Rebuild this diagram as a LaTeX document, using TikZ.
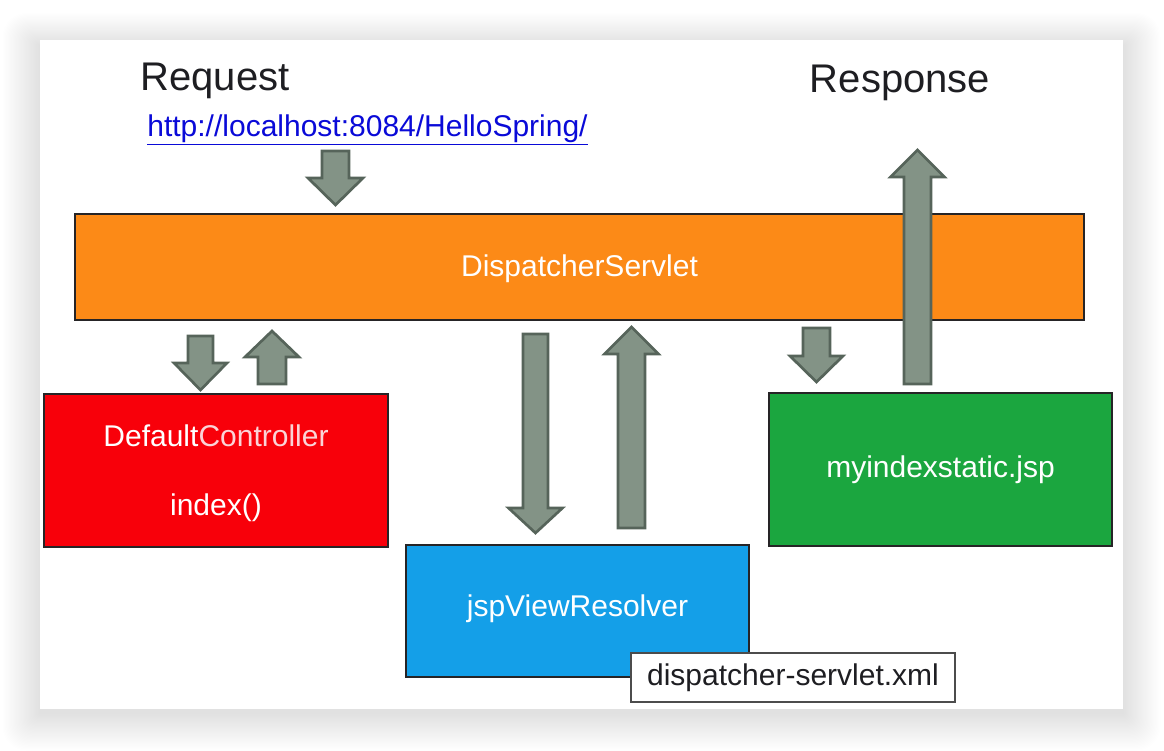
\documentclass[tikz,border=0pt]{standalone}
\usepackage{fontspec}
\setmainfont{Liberation Sans}
\definecolor{orangebox}{HTML}{FC8A17}
\definecolor{redbox}{HTML}{F8000A}
\definecolor{bluebox}{HTML}{149FE8}
\definecolor{greenbox}{HTML}{1BA63F}
\definecolor{arrowfill}{HTML}{839386}
\definecolor{arrowline}{HTML}{56645A}
\definecolor{boxline}{HTML}{262426}
\definecolor{darktext}{HTML}{1E1E22}
\definecolor{linkblue}{HTML}{0A0AD8}
\definecolor{pinktext}{HTML}{FBD3D7}
\newcommand{\myarrow}[7]{% x, ytail, ytip, shaft half, head half, head start y, name
  \path[blockarrow] (#1-#4,#2) -- (#1+#4,#2) -- (#1+#4,#6) -- (#1+#5,#6) -- (#1,#3)
    -- (#1-#5,#6) -- (#1-#4,#6) -- cycle;
  \coordinate (#7) at (#1,#3);}
\begin{document}
\begin{tikzpicture}[x=0.75pt,y=-0.75pt,
  box/.style={draw=boxline,line width=2.2pt},
  label/.style={font=\fontsize{22.5}{27}\selectfont,text=white,inner sep=0pt},
  blockarrow/.style={fill=arrowfill,draw=arrowline,line width=2pt,line join=miter},
  title/.style={font=\fontsize{30}{36}\selectfont,text=darktext,inner sep=0pt}]
\useasboundingbox (0,0) rectangle (1164,750);
\fill[white] (0,0) rectangle (1164,750);
% shadow
\foreach \i in {1,...,30}{
  \fill[black,opacity=0.0035,rounded corners=\i*0.6pt] (40-1.25*\i,40-1.1*\i+6) rectangle (1123+1.25*\i,709+1.25*\i+4);
}
\fill[white] (40,40) rectangle (1123,709);
% boxes
\path[box,fill=orangebox] (75,214) rectangle (1084,320);
\node[label] (ds) at (579.5,269) {DispatcherServlet};
\path[box,fill=redbox] (44,394) rectangle (388,547);
\node[label] (dctext) at (216,436) {Default\textcolor{pinktext}{Controller}};
\node[label] (idx) at (216,508) {index()};
\path[box,fill=bluebox] (406,545) rectangle (749,677);
\node[label] (jsp) at (577.5,609) {jspViewResolver};
\path[box,fill=greenbox] (769,393) rectangle (1112,546);
\node[label] (my) at (940.5,470) {myindexstatic.jsp};
\node[draw=black!70,line width=1.1pt,fill=white,minimum width=324*0.75pt,minimum height=49*0.75pt,
  inner sep=0pt,font=\fontsize{22.5}{27}\selectfont,text=darktext] (xml) at (793,677.5) {dispatcher-servlet.xml};
% titles
\node[title] (req) at (215,81) {Request};
\node[title] (resp) at (900,83) {Response};
\node[inner sep=0pt,font=\fontsize{22.5}{27}\selectfont,text=linkblue] (url) at (367.5,130) {\underline{http://localhost:8084/HelloSpring/}};
% block arrows
\myarrow{335.5}{151}{205}{13.5}{27.5}{178}{a1}
\myarrow{200.5}{336}{390}{12.5}{26.5}{363}{a2}
\myarrow{272}{384}{331}{14}{27}{357}{a3}
\myarrow{535.5}{334}{533}{12.5}{27}{508}{a4}
\myarrow{631.5}{528}{327}{13.5}{27}{354}{a5}
\myarrow{816.5}{328}{382}{13.5}{26.5}{356}{a6}
\myarrow{917.5}{384}{150}{13.5}{27}{177}{a7}
\end{tikzpicture}
\end{document}
